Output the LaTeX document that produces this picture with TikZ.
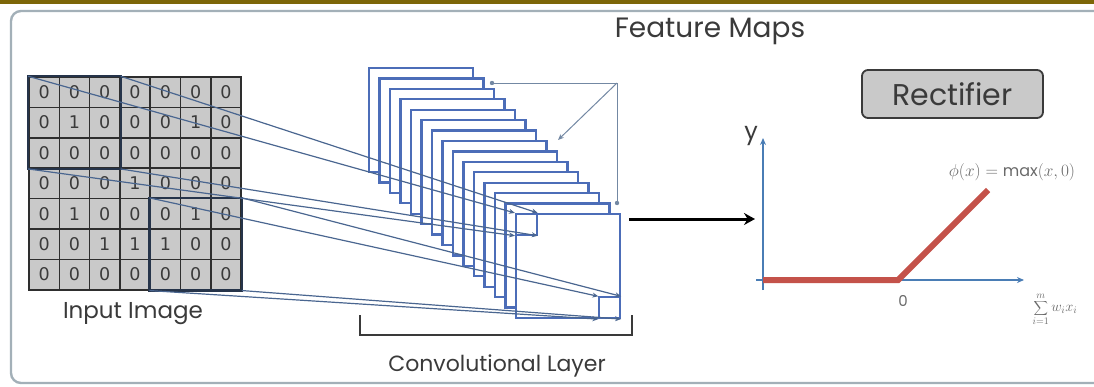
\documentclass[tikz,border=0pt]{standalone}
\usepackage{fontspec}
\setmainfont{Poppins}
\newfontfamily\cellfont{DejaVu Sans}
\usetikzlibrary{arrows.meta}
\definecolor{bandcol}{HTML}{7D6608}
\definecolor{framecol}{HTML}{A3B0B8}
\definecolor{cellgrey}{HTML}{C9C9C9}
\definecolor{cellline}{HTML}{2E2E2E}
\definecolor{fieldcol}{HTML}{26344A}
\definecolor{mapblue}{HTML}{4C6DB8}
\definecolor{connblue}{HTML}{4A6690}
\definecolor{depthcol}{HTML}{7388A3}
\definecolor{axisblue}{HTML}{4A7DB5}
\definecolor{relured}{HTML}{C4524A}
\definecolor{textgrey}{HTML}{3A3A3A}
\definecolor{lightgrey}{HTML}{6A6A6A}
\tikzset{
  cell/.style={draw=cellline, fill=cellgrey, minimum size=30.3pt, inner sep=0pt, line width=1.6pt,
    font=\cellfont\fontsize{17.5}{17.5}\selectfont, text=textgrey},
  field/.style={draw=fieldcol, line width=2.4pt},
  fmap/.style={draw=mapblue, fill=white, minimum size=104pt, inner sep=0pt, line width=2.2pt},
  smallsq/.style={draw=mapblue, fill=white, minimum size=21pt, inner sep=0pt, line width=1.8pt},
  conn/.style={draw=connblue, line width=1.2pt, -{Stealth[length=6pt,width=5pt]}},
  depth/.style={draw=depthcol, line width=1pt},
  label/.style={text=textgrey, inner sep=0pt},
}
\begin{document}
\begin{tikzpicture}[x=1pt,y=-1pt]
\useasboundingbox (0,0) rectangle (1094,386);
% top band and frame
\fill[bandcol] (0,0) rectangle (1094,4);
\draw[framecol, line width=2.4pt, rounded corners=10pt] (1110,11) -- (11,11) -- (11,383) -- (1110,383);
% title
\node[label, font=\fontsize{28}{30}\selectfont] (title) at (710,31) {Feature Maps};
% input grid
\foreach \row [count=\ri] in {{0,0,0,0,0,0,0},{0,1,0,0,0,1,0},{0,0,0,0,0,0,0},{0,0,0,1,0,0,0},{0,1,0,0,0,1,0},{0,0,1,1,1,0,0},{0,0,0,0,0,0,0}} {
  \foreach \v [count=\ci] in \row {
    \node[cell] (c\ri\ci) at (29+30.3*\ci-15.15, 77+30.4*\ri-15.2) {\v};
  }
}
\draw[field] (c11.north west) rectangle (c33.south east);
\draw[field] (c55.north west) rectangle (c77.south east);
\node[label, font=\fontsize{23}{25}\selectfont] (inlabel) at (133,314) {Input Image};
% feature map stack
\foreach \i in {0,...,14} {
  \node[fmap] (m\i) at (421+\i*10.5, 120+\i*10.43) {};
}
\node[smallsq, anchor=north west] (s1) at (m14.north west) {};
\node[smallsq, anchor=south east] (s2) at (m14.south east) {};
% depth indicator
\coordinate (d1) at (492,83);
\coordinate (d2) at (617,83);
\coordinate (d3) at (617,203);
\coordinate (d4) at (558,140);
\draw[depth] (d1) -- (d2) -- (d3);
\draw[depth, -{Stealth[length=6pt,width=5pt]}] (d2) -- (d4);
\fill[depthcol] (d1) circle (2.2pt);
\fill[depthcol] (d3) circle (2.2pt);
% connectors from receptive fields
\draw[conn] (c11.north west) -- (s1.north west);
\draw[conn] (c13.north east) -- (s1.north east);
\draw[conn] (c31.south west) -- (s1.south west);
\draw[conn] (c33.south east) -- (s1.south east);
\draw[conn] (c55.north west) -- (s2.north west);
\draw[conn] (c57.north east) -- (s2.north east);
\draw[conn] (c75.south west) -- (s2.south west);
\draw[conn] (c77.south east) -- (s2.south east);
% bracket
\coordinate (b1) at (360,315);
\coordinate (b2) at (360,335);
\coordinate (b3) at (632,335);
\coordinate (b4) at (632,315);
\draw[draw=textgrey, line width=1.8pt] (b1) -- (b2) -- (b3) -- (b4);
\node[label, font=\fontsize{22}{24}\selectfont] (convlabel) at (497,366) {Convolutional Layer};
% black arrow
\coordinate (ar1) at (629,219);
\coordinate (ar2) at (755,219);
\draw[line width=3pt, -{Stealth[length=11pt,width=12pt]}] (ar1) -- (ar2);
% rectifier box
\node[draw=textgrey, fill=cellgrey, line width=1.8pt, rounded corners=6pt, minimum width=181pt, minimum height=48pt,
  font=\fontsize{30}{32}\selectfont, text=textgrey] (rect) at (952.5,94) {Rectifier};
% axes
\coordinate (O) at (763,280);
\coordinate (ybot) at (763,290);
\coordinate (ytop) at (763,138);
\coordinate (xleft) at (756,280);
\coordinate (xright) at (1024,280);
\coordinate (kink) at (898,280);
\coordinate (rtop) at (988,190);
\draw[axisblue, line width=1.8pt, -{Stealth[length=7pt,width=6pt]}] (ybot) -- (ytop);
\draw[axisblue, line width=1.8pt, -{Stealth[length=7pt,width=6pt]}] (xleft) -- (xright);
\draw[relured, line width=6pt] (O) -- (kink) -- (rtop);
\node[label, font=\fontsize{24}{26}\selectfont] (ylab) at (751,136) {y};
\node[text=lightgrey, inner sep=0pt, font=\fontsize{15}{17}\selectfont] (zero) at (903,301) {0};
\node[text=lightgrey, inner sep=0pt] (formula) at (1012,172) {\fontsize{16}{18}\selectfont $\phi(x)=\max(x,0)$};
\node[text=lightgrey, inner sep=0pt] (sumlab) at (1055,309) {\fontsize{14}{16}\selectfont $\displaystyle\sum_{i=1}^{m} w_i x_i$};
\end{tikzpicture}
\end{document}
